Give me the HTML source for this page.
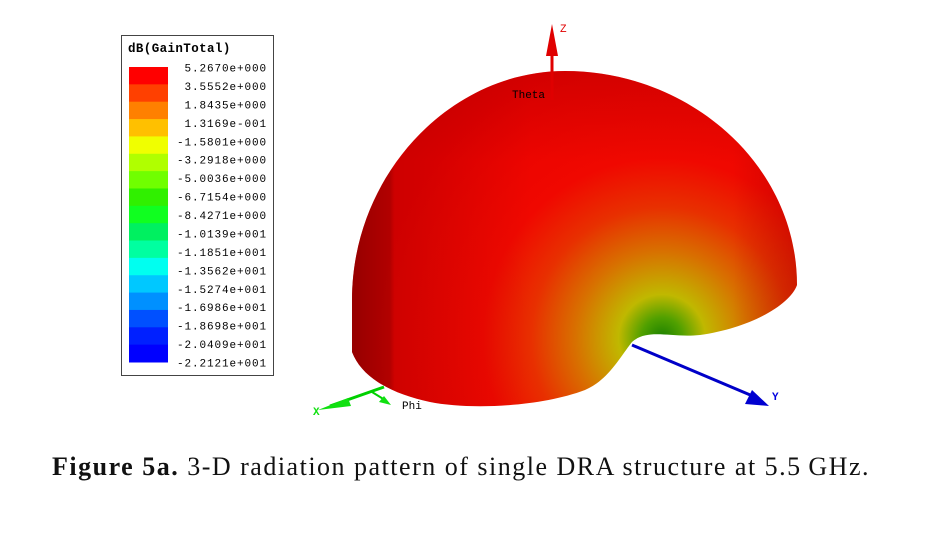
<!DOCTYPE html>
<html><head><style>
body{margin:0;background:#fff;width:946px;height:549px;overflow:hidden;position:relative}
svg{position:absolute;left:0;top:0}
.cap{position:absolute;left:0;width:922px;top:452px;text-align:center;font-family:"Liberation Serif",serif;font-size:26px;letter-spacing:1.5px;color:#111;white-space:nowrap}
</style></head><body>
<svg width="946" height="549" viewBox="0 0 946 549">
<defs>
<radialGradient id="hot" cx="662" cy="338" r="290" gradientUnits="userSpaceOnUse">
<stop offset="0" stop-color="#1a8000"/>
<stop offset="0.07" stop-color="#50a000"/>
<stop offset="0.15" stop-color="#c0b800"/>
<stop offset="0.3" stop-color="#d87000"/>
<stop offset="0.45" stop-color="#e83000"/>
<stop offset="0.62" stop-color="#f00800"/>
<stop offset="1" stop-color="#e80000"/>
</radialGradient>
<linearGradient id="shade" x1="352" y1="0" x2="800" y2="0" gradientUnits="userSpaceOnUse">
<stop offset="0" stop-color="#600000" stop-opacity="0.6"/>
<stop offset="0.085" stop-color="#600000" stop-opacity="0.4"/>
<stop offset="0.095" stop-color="#700000" stop-opacity="0.22"/>
<stop offset="0.4" stop-color="#700000" stop-opacity="0"/>
<stop offset="0.85" stop-color="#700000" stop-opacity="0"/>
<stop offset="1" stop-color="#700000" stop-opacity="0.25"/>
</linearGradient>
<linearGradient id="top" x1="0" y1="70" x2="0" y2="300" gradientUnits="userSpaceOnUse">
<stop offset="0" stop-color="#900000" stop-opacity="0.25"/>
<stop offset="0.4" stop-color="#900000" stop-opacity="0"/>
</linearGradient>
</defs>
<rect x="121.5" y="35.5" width="152" height="340" fill="#fff" stroke="#444"/>
<text x="128" y="52" font-family="Liberation Mono,monospace" font-size="12.5" font-weight="bold" letter-spacing="0.4" fill="#000">dB(GainTotal)</text>
<g id="sw"></g>
<path d="M352,352 L352,300 C352,175 450,71 565,71 C690,71 797,165 797,285 C790,305 750,328 700,335 C670,338 648,328 632,342 C618,360 608,380 585,390 C540,407 470,410 430,402 C392,394 362,378 352,352 Z" fill="url(#hot)"/>
<path d="M352,352 L352,300 C352,175 450,71 565,71 C690,71 797,165 797,285 C790,305 750,328 700,335 C670,338 648,328 632,342 C618,360 608,380 585,390 C540,407 470,410 430,402 C392,394 362,378 352,352 Z" fill="url(#shade)"/>
<path d="M352,352 L352,300 C352,175 450,71 565,71 C690,71 797,165 797,285 C790,305 750,328 700,335 C670,338 648,328 632,342 C618,360 608,380 585,390 C540,407 470,410 430,402 C392,394 362,378 352,352 Z" fill="url(#top)"/>
<line x1="552" y1="100" x2="552" y2="45" stroke="#e00000" stroke-width="3"/>
<polygon points="552,24 546,56 558,56" fill="#e00000"/>
<text x="560" y="32" font-family="Liberation Mono,monospace" font-size="11" fill="#e00000">Z</text>
<text x="512" y="98" font-family="Liberation Mono,monospace" font-size="11" fill="#000">Theta</text>
<line x1="632" y1="345" x2="755" y2="397" stroke="#0000c8" stroke-width="3"/>
<polygon points="769,406 745,404 752,390" fill="#0000d0"/>
<text x="772" y="400" font-family="Liberation Mono,monospace" font-size="11" font-weight="bold" fill="#0000e0">Y</text>
<line x1="384" y1="387" x2="330" y2="406" stroke="#00d000" stroke-width="3"/>
<polygon points="318,410 348,398 351,406" fill="#10e010"/>
<line x1="372" y1="392" x2="385" y2="400" stroke="#00d000" stroke-width="2"/>
<polygon points="391,405 379,402 384,396" fill="#10e010"/>
<text x="313" y="415" font-family="Liberation Mono,monospace" font-size="11" font-weight="bold" fill="#10e010">X</text>
<text x="402" y="409" font-family="Liberation Mono,monospace" font-size="11" fill="#000">Phi</text>
</svg>
<div class="cap"><b>Figure 5a.</b> 3-D radiation pattern of single DRA structure at 5.5&#8201;GHz.</div>
<script>
var cols=["#ff0000","#ff4000","#ff8000","#ffc000","#f0ff00","#b0ff00","#70ff00","#30f000","#10ff20","#00f060","#00ffa0","#00fff0","#00c8ff","#0090ff","#0050ff","#0020ff","#0000ff"];
var labs=["5.2670e+000","3.5552e+000","1.8435e+000","1.3169e-001","-1.5801e+000","-3.2918e+000","-5.0036e+000","-6.7154e+000","-8.4271e+000","-1.0139e+001","-1.1851e+001","-1.3562e+001","-1.5274e+001","-1.6986e+001","-1.8698e+001","-2.0409e+001","-2.2121e+001"];
var g=document.getElementById("sw"),ns="http://www.w3.org/2000/svg",h=295/17,lh=295/16;
for(var i=0;i<17;i++){var r=document.createElementNS(ns,"rect");r.setAttribute("x",129);r.setAttribute("y",67+i*h);r.setAttribute("width",39);r.setAttribute("height",h+0.5);r.setAttribute("fill",cols[i]);g.appendChild(r);
var t=document.createElementNS(ns,"text");t.setAttribute("x",267);t.setAttribute("y",71.5+i*lh);t.setAttribute("text-anchor","end");t.setAttribute("font-family","Liberation Mono,monospace");t.setAttribute("font-size","11");t.setAttribute("letter-spacing","0.9");t.textContent=labs[i];g.appendChild(t);}
</script>
</body></html>
